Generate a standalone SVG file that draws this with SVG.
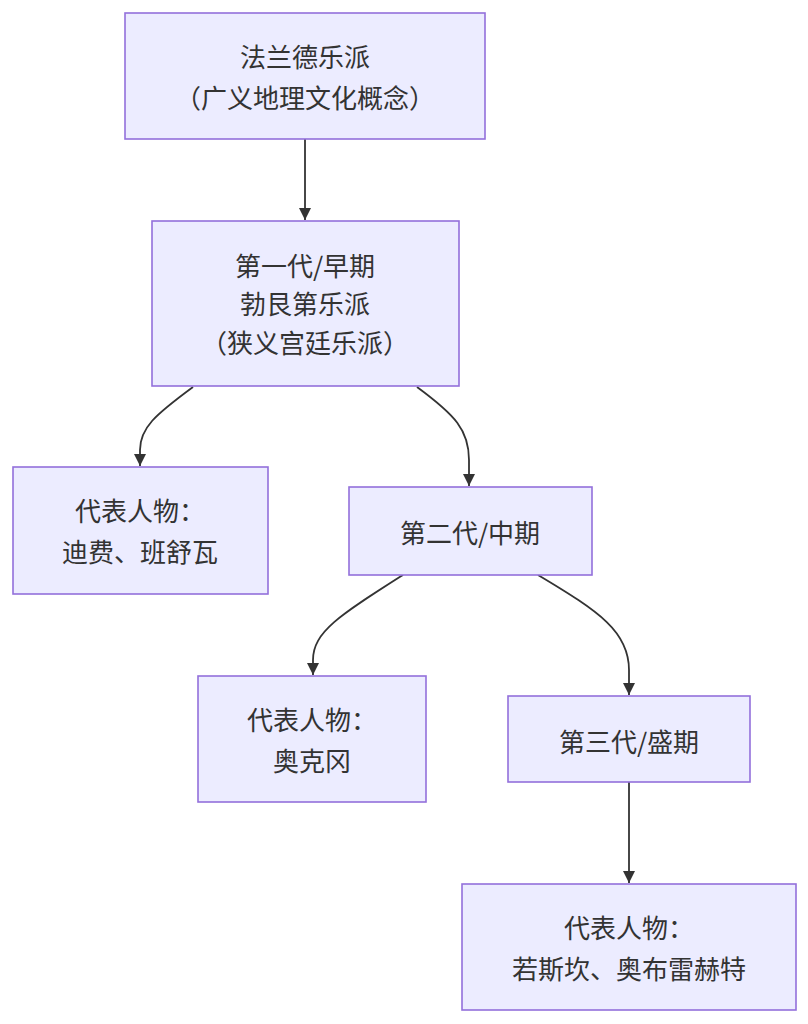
<svg xmlns="http://www.w3.org/2000/svg" width="808" height="1024" viewBox="0 0 808 1024">
<style>
.node rect{fill:#ECECFF;stroke:#9370DB;stroke-width:1.6}
.node text{font-family:"Noto Sans CJK SC","Liberation Sans",sans-serif;font-size:26px;fill:#333;text-anchor:middle;dominant-baseline:central}
.edge{fill:none;stroke:#333;stroke-width:1.8}
</style>
<defs>
<marker id="ah" viewBox="0 0 12 12" refX="12" refY="6" markerWidth="12" markerHeight="12" markerUnits="userSpaceOnUse" orient="auto">
<path d="M0,0 L12,6 L0,12 z" fill="#333"/>
</marker>
</defs>
<rect width="808" height="1024" fill="#fff"/>
<g id="connectors">
<path class="edge" d="M305,139 L305,220" marker-end="url(#ah)"/>
<path class="edge" d="M193,387 C155,415 140,428 140,450 L140,466" marker-end="url(#ah)"/>
<path class="edge" d="M417,387 C455,415 469,430 469,460 L469,486" marker-end="url(#ah)"/>
<path class="edge" d="M403,575 C340,615 313,632 313,660 L313,675" marker-end="url(#ah)"/>
<path class="edge" d="M538,575 C600,612 629,632 629,670 L629,695" marker-end="url(#ah)"/>
<path class="edge" d="M629,782 L629,883" marker-end="url(#ah)"/>
</g>
<g id="nodeA" class="node"><rect x="125" y="13" width="360" height="126"/>
<text x="305" y="55">法兰德乐派</text><text x="305" y="96">（广义地理文化概念）</text></g>
<g id="nodeB" class="node"><rect x="152" y="221" width="307" height="165"/>
<text x="305" y="264">第一代/早期</text><text x="305" y="302">勃艮第乐派</text><text x="305" y="341">（狭义宫廷乐派）</text></g>
<g id="nodeC" class="node"><rect x="13" y="467" width="255" height="127"/>
<text x="140" y="509">代表人物：</text><text x="140" y="550">迪费、班舒瓦</text></g>
<g id="nodeD" class="node"><rect x="349" y="487" width="243" height="88"/>
<text x="470" y="531">第二代/中期</text></g>
<g id="nodeE" class="node"><rect x="198" y="676" width="228" height="126"/>
<text x="312" y="718">代表人物：</text><text x="312" y="759">奥克冈</text></g>
<g id="nodeF" class="node"><rect x="508" y="696" width="242" height="86"/>
<text x="629" y="740">第三代/盛期</text></g>
<g id="nodeG" class="node"><rect x="462" y="884" width="334" height="126"/>
<text x="629" y="926">代表人物：</text><text x="629" y="967">若斯坎、奥布雷赫特</text></g>
</svg>
